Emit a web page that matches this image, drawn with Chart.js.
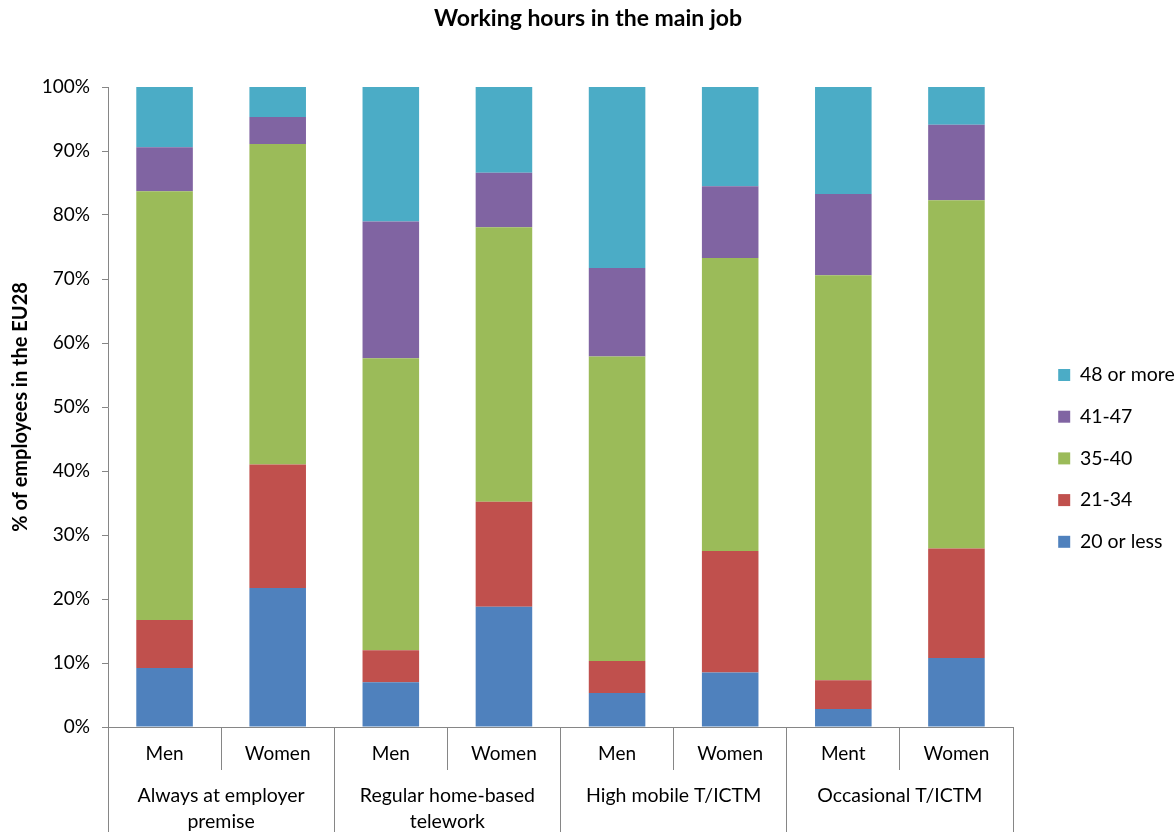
<!DOCTYPE html>
<html>
<head>
<meta charset="utf-8">
<script src="https://cdn.jsdelivr.net/npm/chart.js@4/dist/chart.umd.min.js"></script>
<style>
  html, body { margin: 0; padding: 0; background: #fff; }
  #wrap { width: 1176px; height: 832px; }
</style>
</head>
<body>
<div id="wrap"><canvas id="hoursChart"></canvas></div>
<script>
// categories
const subLabels = ['Men', 'Women', 'Men', 'Women', 'Men', 'Women', 'Ment', 'Women'];
const groupLabels = [
    ['Always at employer', 'premise'],
    ['Regular home-based', 'telework'],
    'High mobile T/ICTM',
    'Occasional T/ICTM'
];

// series values (% of employees)
const hours20OrLess = [9.2, 21.7, 7.0, 18.8, 5.3, 8.5, 2.8, 10.8];
const hours21to34   = [7.5, 19.3, 5.0, 16.4, 5.0, 19.0, 4.5, 17.1];
const hours35to40   = [67.0, 50.1, 45.6, 42.9, 47.6, 45.8, 63.3, 54.4];
const hours41to47   = [6.9, 4.2, 21.4, 8.5, 13.8, 11.2, 12.7, 11.8];
const hours48OrMore = [9.4, 4.7, 21.0, 13.4, 28.3, 15.5, 16.7, 5.9];

const FONT = 'Lato, "Open Sans", sans-serif';
const AXIS_GREY = '#868686';

// widen the legend box so the items sit where they do in the original
const legendWidthPlugin = {
    id: 'legendWidth',
    beforeLayout(chart) {
        const lg = chart.legend;
        if (lg && !lg._fixedWidth) {
            const fit = lg.fit;
            lg.fit = function() {
                fit.call(this);
                this.width = 140;
            };
            lg._fixedWidth = true;
        }
    }
};

const ctx = document.getElementById('hoursChart').getContext('2d');
new Chart(ctx, {
    type: 'bar',
    data: {
        labels: subLabels,
        datasets: [
            { label: '20 or less', data: hours20OrLess, backgroundColor: '#4F81BD' },
            { label: '21-34', data: hours21to34, backgroundColor: '#C0504D' },
            { label: '35-40', data: hours35to40, backgroundColor: '#9BBB59' },
            { label: '41-47', data: hours41to47, backgroundColor: '#8064A2' },
            { label: '48 or more', data: hours48OrMore, backgroundColor: '#4BACC6' }
        ]
    },
    options: {
        responsive: true,
        maintainAspectRatio: false,
        animation: false,
        datasets: {
            bar: {
                xAxisID: 'x',
                yAxisID: 'y',
                barPercentage: 0.5,
                categoryPercentage: 1.0
            }
        },
        layout: { padding: 0 },
        plugins: {
            title: {
                display: true,
                text: 'Working hours in the main job',
                color: '#000',
                font: { family: FONT, size: 23, weight: 'bold', lineHeight: 1.2 },
                padding: { top: 5, bottom: 54.4 }
            },
            legend: {
                position: 'right',
                reverse: true,
                title: { display: true, text: ' ', font: { size: 12 }, padding: { top: 70.4, bottom: 0 } },
                labels: {
                    boxWidth: 12,
                    boxHeight: 12,
                    padding: 22.2,
                    color: '#000',
                    font: { family: FONT, size: 19.5 }
                }
            },
            tooltip: { enabled: false }
        },
        scales: {
            y: {
                stacked: true,
                min: 0,
                max: 100,
                afterFit: scale => { scale.width = 108; },
                grid: {
                    drawOnChartArea: false,
                    tickLength: 6,
                    color: AXIS_GREY
                },
                border: { color: AXIS_GREY },
                ticks: {
                    stepSize: 10,
                    padding: 12,
                    color: '#000',
                    font: { family: FONT, size: 19 },
                    callback: value => value + '%'
                },
                title: {
                    display: true,
                    text: '% of employees in the EU28',
                    color: '#000',
                    padding: { top: 8.5, bottom: 0 },
                    font: { family: FONT, size: 20, weight: 'bold' }
                }
            },
            x: {
                stacked: true,
                position: 'bottom',
                afterFit: scale => { scale.height = 42; },
                grid: {
                    offset: true,
                    drawOnChartArea: false,
                    tickLength: 43,
                    color: AXIS_GREY
                },
                border: { color: AXIS_GREY },
                ticks: {
                    padding: -27.4,
                    color: '#000',
                    maxRotation: 0,
                    autoSkip: false,
                    font: { family: FONT, size: 19 }
                }
            },
            x2: {
                type: 'category',
                position: 'bottom',
                labels: groupLabels,
                afterFit: scale => { scale.height = 63; },
                grid: {
                    offset: true,
                    drawOnChartArea: false,
                    tickLength: 63,
                    color: AXIS_GREY
                },
                border: { display: false },
                ticks: {
                    padding: -48.7,
                    color: '#000',
                    maxRotation: 0,
                    autoSkip: false,
                    font: { family: FONT, size: 19.5, lineHeight: 1.3 }
                }
            },
            gap: {
                type: 'linear',
                axis: 'y',
                position: 'right',
                display: true,
                afterFit: scale => { scale.width = 23; },
                grid: { display: false },
                border: { display: false },
                ticks: { display: false }
            }
        }
    },
    plugins: [legendWidthPlugin]
});
</script>
</body>
</html>
